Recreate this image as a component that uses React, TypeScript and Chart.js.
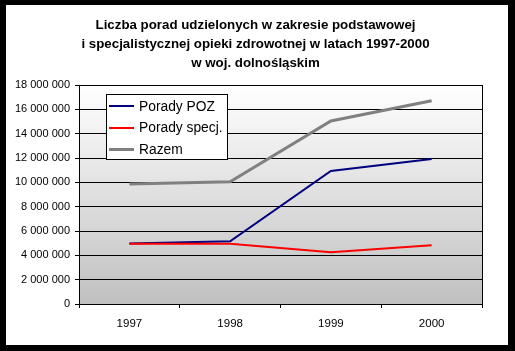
import React, { useEffect, useRef } from 'react';
import { Chart, registerables } from 'chart.js';

Chart.register(...registerables);

const titleLines = [
  'Liczba porad udzielonych w zakresie podstawowej',
  'i specjalistycznej opieki zdrowotnej w latach 1997-2000',
  'w woj. dolnośląskim',
];
const years = ['1997', '1998', '1999', '2000'];
const poradyPOZ = [4980000, 5150000, 10930000, 11920000];
const poradySpec = [4960000, 4960000, 4250000, 4820000];
const razem = [9860000, 10050000, 15040000, 16710000];
const seriesNames = ['Porady POZ', 'Porady specj.', 'Razem'];
const seriesColors = ['#000080', '#ff0000', '#808080'];
const seriesWidths = [2, 2, 3];
const yMin = 0;
const yMax = 18000000;
const yStep = 2000000;

const FONT = "'Liberation Sans', Arial, sans-serif";

const fmt = (v: number) => String(Math.round(v)).replace(/\B(?=(\d{3})+(?!\d))/g, ' ');

const plotBg = {
  id: 'plotBg',
  beforeDraw(chart: any) {
    const { ctx, chartArea: a } = chart;
    const g = ctx.createLinearGradient(0, a.top, 0, a.bottom);
    g.addColorStop(0, '#ffffff');
    g.addColorStop(1, '#c0c0c0');
    ctx.save();
    ctx.fillStyle = g;
    ctx.fillRect(a.left, a.top, a.right - a.left, a.bottom - a.top);
    ctx.restore();
  },
};

const boxLegend = {
  id: 'boxLegend',
  afterDraw(chart: any) {
    const { ctx, chartArea: a } = chart;
    const x0 = a.left + 27;
    const y0 = a.top + 9;
    const w = 122;
    const h = 66;
    ctx.save();
    ctx.fillStyle = '#fff';
    ctx.fillRect(x0, y0, w, h);
    ctx.strokeStyle = '#000';
    ctx.lineWidth = 1;
    ctx.strokeRect(x0 + 0.5, y0 + 0.5, w - 1, h - 1);
    ctx.font = `13.8px ${FONT}`;
    ctx.textBaseline = 'middle';
    ctx.textAlign = 'left';
    chart.data.datasets.forEach((ds: any, i: number) => {
      const cy = y0 + 12 + i * 21.5;
      const off = ds.borderWidth % 2 ? 0.5 : 0;
      ctx.strokeStyle = ds.borderColor;
      ctx.lineWidth = ds.borderWidth;
      ctx.beginPath();
      ctx.moveTo(x0 + 3, Math.round(cy) + off);
      ctx.lineTo(x0 + 28, Math.round(cy) + off);
      ctx.stroke();
      ctx.fillStyle = '#000';
      ctx.fillText(ds.label, x0 + 33, cy + 1);
    });
    ctx.restore();
  },
};

export default function App() {
  const ref = useRef<HTMLCanvasElement | null>(null);
  useEffect(() => {
    if (!ref.current) return;
    const seriesData = [poradyPOZ, poradySpec, razem];
    const chart = new Chart(ref.current, {
      type: 'line',
      data: {
        labels: years,
        datasets: seriesNames.map((name, i) => ({
          label: name,
          data: seriesData[i],
          borderColor: seriesColors[i],
          backgroundColor: seriesColors[i],
          borderWidth: seriesWidths[i],
          pointRadius: 0,
          tension: 0,
          fill: false,
          order: 3 - i,
          yAxisID: 'y',
        })),
      },
      options: {
        responsive: false,
        animation: false,
        layout: { padding: { left: 0, right: 3, top: 0, bottom: 0 } },
        plugins: {
          legend: { display: false },
          tooltip: { enabled: false },
          title: {
            display: true,
            text: titleLines,
            color: '#000',
            font: { family: FONT, size: 13.3, weight: 'bold', lineHeight: '19px' } as any,
            padding: { top: 10.5, bottom: 12.5 },
          },
        },
        scales: {
          x: {
            type: 'category',
            offset: true,
            grid: { offset: true, drawOnChartArea: false, drawTicks: true, tickLength: 4, color: '#000' },
            border: { color: '#000' },
            ticks: { color: '#000', font: { family: FONT, size: 11.5 }, padding: 9, maxRotation: 0 },
            afterFit: (s: any) => { s.height = 41; },
          },
          y: {
            position: 'left',
            min: yMin,
            max: yMax,
            grid: { color: '#000', tickLength: 4 },
            border: { color: '#000' },
            ticks: {
              stepSize: yStep,
              color: '#000',
              font: { family: FONT, size: 11 },
              padding: 5,
              callback: (v: any) => fmt(Number(v)),
            },
            afterFit: (s: any) => { s.width = 73; },
          },
          y2: {
            display: true,
            position: 'right',
            min: 0,
            max: 1,
            grid: { drawOnChartArea: false, drawTicks: false },
            border: { display: true, color: '#000' },
            ticks: { display: false },
            afterFit: (s: any) => { s.width = 23; },
          },
        },
      },
      plugins: [plotBg, boxLegend],
    });
    return () => chart.destroy();
  }, []);
  return (
    <div style={{ position: 'fixed', left: 0, top: 0, width: 515, height: 351, background: '#000' }}>
      <div style={{ position: 'absolute', left: 6, top: 5, width: 502, height: 340, background: '#fff' }}>
        <canvas ref={ref} width={502} height={340} style={{ display: 'block', width: 502, height: 340 }} />
      </div>
    </div>
  );
}
